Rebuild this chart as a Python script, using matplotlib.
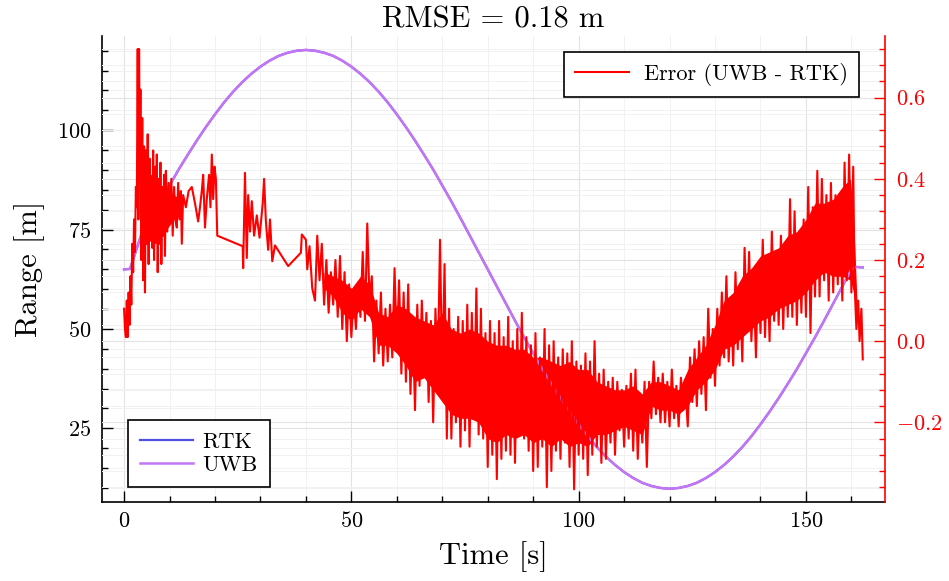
import matplotlib
matplotlib.use("Agg")
import matplotlib.pyplot as plt
from matplotlib.ticker import MultipleLocator, FuncFormatter

plt.rcParams['font.family'] = 'serif'
plt.rcParams['font.serif'] = ['cmr10']
plt.rcParams['mathtext.fontset'] = 'cm'
plt.rcParams['axes.formatter.use_mathtext'] = True

# range of the tag, RTK and UWB (m)
range_t = [0, 1.3, 2, 4, 6, 8, 10, 12, 14, 16, 18, 20, 22, 24, 26, 28, 30,
           32, 34, 36, 38, 40, 42, 44, 46, 48, 50, 52, 54, 56, 58, 60, 62,
           64, 66, 68, 70, 72, 74, 76, 78, 80, 82, 84, 86, 88, 90, 92, 94,
           96, 98, 100, 102, 104, 106, 108, 110, 112, 114, 116, 118, 120,
           122, 124, 126, 128, 130, 132, 134, 136, 138, 140, 142, 144, 146,
           148, 150, 152, 154, 156, 158, 160, 161, 162.5]
rtk_range = [65.0, 65.1, 67.5, 74.5, 78.3, 82.1, 86.1, 90.1, 93.8, 97.4,
             100.8, 104.0, 107.0, 109.7, 112.1, 114.2, 116.0, 117.5, 118.7,
             119.5, 120.0, 120.2, 120.0, 119.5, 118.7, 117.5, 116.0, 114.2,
             112.1, 109.7, 107.0, 104.0, 100.8, 97.4, 93.8, 90.1, 86.1, 82.1,
             77.9, 73.6, 69.3, 65.0, 60.7, 56.4, 52.1, 47.9, 43.9, 39.9, 36.2,
             32.6, 29.2, 26.0, 23.0, 20.3, 17.9, 15.8, 14.0, 12.5, 11.3, 10.5,
             10.0, 9.8, 10.0, 10.5, 11.3, 12.5, 14.0, 15.8, 17.9, 20.3, 23.0,
             26.0, 29.2, 32.6, 36.2, 39.9, 43.9, 47.9, 52.1, 56.4, 60.7, 65.0,
             65.6, 65.5]
uwb_range = [65.0, 65.1, 67.5, 74.5, 78.3, 82.1, 86.1, 90.1, 93.8, 97.4,
             100.8, 104.0, 107.0, 109.7, 112.1, 114.2, 116.0, 117.5, 118.7,
             119.5, 120.0, 120.2, 120.0, 119.5, 118.7, 117.5, 116.0, 114.2,
             112.1, 109.7, 107.0, 104.0, 100.8, 97.4, 93.8, 90.1, 86.1, 82.1,
             77.9, 73.6, 69.3, 65.0, 60.7, 56.4, 52.1, 47.9, 43.9, 39.9, 36.2,
             32.6, 29.2, 26.0, 23.0, 20.3, 17.9, 15.8, 14.0, 12.5, 11.3, 10.5,
             10.0, 9.8, 10.0, 10.5, 11.3, 12.5, 14.0, 15.8, 17.9, 20.3, 23.0,
             26.0, 29.2, 32.6, 36.2, 39.9, 43.9, 47.9, 52.1, 56.4, 60.7, 65.0,
             65.6, 65.5]

# error UWB - RTK (m): the peaks and dips of the trace
err_t = [0.0, 0.2, 0.4, 0.6, 0.8, 1.0, 1.2, 1.4, 1.6, 1.8, 2.0, 2.2, 2.4, 2.6, 2.8,
         3.0, 3.15, 3.3, 3.45, 3.6, 3.8, 4.0, 4.2, 4.4, 4.6, 4.8, 5.0, 5.2, 5.4,
         5.6, 5.8, 6.0, 6.2, 6.4, 6.6, 6.8, 7.0, 7.2, 7.4, 7.6, 7.8, 8.0, 8.2,
         8.4, 8.6, 8.8, 9.0, 9.2, 9.5, 9.8, 10.1, 10.4, 10.7, 11.0, 11.3, 11.6,
         11.9, 12.2, 12.5, 12.7, 13.0,
         13.6, 14.2, 14.9, 15.6, 16.3, 16.7, 17.1, 17.4, 17.8, 18.2, 18.7, 19.0,
         19.3, 19.6, 19.9, 20.2, 20.5,
         26.1, 26.2, 26.6, 27.0, 27.3, 27.7, 28.1, 28.6, 29.2, 29.8, 30.5, 30.8,
         31.2, 31.7, 32.1, 32.6, 33.2, 36.1, 38.9, 39.1, 40.0, 40.3, 40.8, 41.4,
         42.0, 42.5, 43.0, 43.5, 44.0, 44.5, 45.0, 45.5, 46.0, 46.5,
         47.0, 47.5, 48.0, 48.5, 49.0, 49.5, 50.0, 50.5, 51.0, 51.5,
         52.0, 52.5, 53.0, 53.5, 54.0, 54.5, 55.0, 55.5, 56.0, 56.5,
         57.0, 57.5, 58.0, 58.5, 59.0, 59.5, 60.0, 60.5, 61.0, 61.5,
         62.0, 62.5, 63.0, 63.5, 64.0, 64.5, 65.0, 65.5, 66.0, 66.5,
         67.0, 67.5, 68.0, 68.5, 69.0, 69.5, 70.0, 70.5, 71.0, 71.5,
         72.0, 72.5, 73.0, 73.5, 74.0, 74.5, 75.0, 75.5, 76.0, 76.5,
         77.0, 77.5, 78.0, 78.5, 79.0, 79.5, 80.0, 80.5, 81.0, 81.5,
         82.0, 82.5, 83.0, 83.5, 84.0, 84.5, 85.0, 85.5, 86.0, 86.5,
         87.0, 87.5, 88.0, 88.5, 89.0, 89.5, 90.0, 90.5, 91.0, 91.5,
         92.0, 92.5, 93.0, 93.5, 94.0, 94.5, 95.0, 95.5, 96.0, 96.5,
         97.0, 97.5, 98.0, 98.5, 99.0, 99.5, 100.0, 100.5, 101.0, 101.5,
         102.0, 102.5, 103.0, 103.5, 104.0, 104.5, 105.0, 105.5, 106.0, 106.5,
         107.0, 107.5, 108.0, 108.5, 109.0, 109.5, 110.0, 110.5, 111.0, 111.5,
         112.0, 112.5, 113.0, 113.5, 114.0, 114.5, 115.0, 115.5, 116.0, 116.5,
         117.0, 117.5, 118.0, 118.5, 119.0, 119.5, 120.0, 120.5, 121.0, 121.5,
         122.0, 122.5, 123.0, 123.5, 124.0, 124.5, 125.0, 125.5, 126.0, 126.5,
         127.0, 127.5, 128.0, 128.5, 129.0, 129.5, 130.0, 130.5, 131.0, 131.5,
         132.0, 132.5, 133.0, 133.5, 134.0, 134.5, 135.0, 135.5, 136.0, 136.5,
         137.0, 137.5, 138.0, 138.5, 139.0, 139.5, 140.0, 140.5, 141.0, 141.5,
         142.0, 142.5, 143.0, 143.5, 144.0, 144.5, 145.0, 145.5, 146.0, 146.5,
         147.0, 147.5, 148.0, 148.5, 149.0, 149.5, 150.0, 150.5, 151.0, 151.5,
         152.0, 152.5, 153.0, 153.5, 154.0, 154.5, 155.0, 155.5, 156.0, 156.5,
         157.0, 157.5, 158.0, 158.5, 159.0, 159.5, 160.0, 160.4, 160.7, 161.1,
         161.5, 161.8, 162.2, 162.5]
err_v = [0.08, 0.03, 0.01, 0.10, 0.01, 0.12, 0.04, 0.16, 0.09, 0.24, 0.17, 0.30, 0.22, 0.38, 0.33,
         0.72, 0.30, 0.72, 0.45, 0.62, 0.20, 0.55, 0.15, 0.48, 0.12, 0.47, 0.24, 0.51, 0.19,
         0.45, 0.28, 0.40, 0.23, 0.47, 0.20, 0.43, 0.25, 0.46, 0.17, 0.40, 0.24, 0.44, 0.19,
         0.38, 0.26, 0.41, 0.21, 0.42, 0.27, 0.39, 0.30, 0.40, 0.26, 0.38, 0.30, 0.28,
         0.39, 0.30, 0.37, 0.24, 0.36,
         0.33, 0.37, 0.38, 0.34, 0.295, 0.33, 0.37, 0.41, 0.28, 0.35, 0.41, 0.33,
         0.46, 0.35, 0.43, 0.40, 0.26,
         0.234, 0.18, 0.415, 0.205, 0.36, 0.27, 0.345, 0.26, 0.31, 0.255, 0.34, 0.40,
         0.295, 0.225, 0.30, 0.197, 0.236, 0.185, 0.218, 0.263, 0.25, 0.177, 0.234, 0.13,
         0.10, 0.26, 0.15, 0.24, 0.09, 0.20, 0.07, 0.17, 0.09, 0.20,
         0.06, 0.21, 0.03, 0.17, 0.00, 0.14, 0.01, 0.12, 0.03, 0.14,
         0.06, 0.22, 0.05, 0.29, 0.10, 0.16, -0.05, 0.10, -0.03, 0.12,
         -0.06, 0.08, -0.05, 0.09, -0.04, 0.18, -0.02, 0.15, -0.08, 0.12,
         -0.10, 0.14, -0.13, 0.06, -0.17, 0.09, -0.11, 0.10, -0.08, 0.07,
         -0.15, 0.05, -0.20, 0.08, -0.09, 0.25, -0.10, 0.19, -0.24, 0.08,
         -0.24, 0.03, -0.20, 0.06, -0.26, 0.05, -0.22, 0.09, -0.26, 0.07,
         -0.18, 0.13, -0.23, 0.08, -0.24, 0.02, -0.31, 0.05, -0.28, 0.02,
         -0.34, 0.05, -0.29, 0.01, -0.27, 0.06, -0.28, 0.00, -0.30, 0.03,
         -0.22, 0.07, -0.24, 0.01, -0.27, -0.01, -0.32, 0.02, -0.31, -0.04,
         -0.26, 0.03, -0.36, -0.01, -0.32, 0.00, -0.27, -0.04, -0.29, -0.02,
         -0.25, -0.03, -0.31, 0.00, -0.365, -0.05, -0.28, -0.06, -0.29, -0.03,
         -0.33, -0.05, -0.28, 0.00, -0.26, -0.08, -0.30, -0.07, -0.29, -0.10,
         -0.25, -0.09, -0.28, -0.10, -0.22, -0.12, -0.26, -0.11, -0.24, -0.08,
         -0.27, -0.07, -0.29, -0.13, -0.25, -0.10, -0.31, -0.10, -0.19, -0.05,
         -0.18, -0.09, -0.20, -0.08, -0.20, -0.10, -0.21, -0.07, -0.19, -0.11,
         -0.21, -0.09, -0.17, -0.12, -0.21, -0.04, -0.15, -0.02, -0.16, 0.00,
         -0.13, 0.01, -0.17, 0.08, -0.09, 0.03, -0.11, 0.08, -0.06, 0.12,
         -0.04, 0.16, -0.05, 0.10, -0.06, 0.17, -0.02, 0.13, -0.05, 0.23,
         0.03, 0.22, 0.00, 0.15, -0.04, 0.19, 0.02, 0.25, 0.01, 0.20,
         0.00, 0.27, 0.05, 0.22, 0.04, 0.26, 0.03, 0.24, 0.06, 0.35,
         0.06, 0.32, 0.04, 0.27, 0.07, 0.30, 0.06, 0.38, 0.02, 0.33,
         0.11, 0.42, 0.11, 0.40, 0.15, 0.36, 0.10, 0.39, 0.12, 0.36,
         0.14, 0.35, 0.10, 0.44, 0.15, 0.46, 0.12, 0.43, 0.14, 0.03,
         0.10, 0.00, 0.08, -0.045]

# the solid core of the dense error trace (lower / upper edge)
core1_t = [3.6, 5.0, 7.0, 9.0, 11.0, 12.5]
core1_lo = [0.25, 0.25, 0.24, 0.27, 0.30, 0.31]
core1_hi = [0.45, 0.42, 0.40, 0.37, 0.36, 0.35]
core2_t = [44, 46, 48, 50, 52, 54, 56, 58, 60, 62, 64, 66, 68, 70, 72, 74,
           76, 78, 80, 82, 84, 86, 88, 90, 92, 94, 96, 98, 100, 102, 104,
           106, 108, 110, 112, 114, 116, 118, 120, 122, 124, 126, 128, 130,
           132, 134, 136, 138, 140, 142, 144, 146, 148, 150, 152, 154, 156,
           158, 159.8, 160.5, 161.3]
core2_lo = [0.13, 0.11, 0.07, 0.05, 0.08, 0.06, -0.01, -0.01, -0.03, -0.06,
            -0.10, -0.09, -0.12, -0.15, -0.18, -0.19, -0.19, -0.20, -0.24,
            -0.25, -0.23, -0.24, -0.23, -0.25, -0.24, -0.26, -0.24, -0.26,
            -0.25, -0.26, -0.23, -0.23, -0.22, -0.21, -0.22, -0.23, -0.16,
            -0.17, -0.17, -0.18, -0.16, -0.12, -0.10, -0.07, -0.02, -0.01,
            0.01, 0.03, 0.05, 0.06, 0.08, 0.09, 0.10, 0.12, 0.15, 0.17, 0.16,
            0.16, 0.15, 0.12, 0.05]
core2_hi = [0.17, 0.16, 0.15, 0.13, 0.16, 0.14, 0.07, 0.06, 0.09, 0.08,
            0.06, 0.05, 0.04, 0.07, 0.03, 0.02, 0.03, 0.02, 0.00, -0.01,
            -0.01, -0.02, -0.02, -0.04, -0.04, -0.05, -0.06, -0.05, -0.07,
            -0.07, -0.10, -0.11, -0.12, -0.12, -0.11, -0.13, -0.10, -0.10,
            -0.11, -0.12, -0.07, -0.04, -0.01, 0.04, 0.10, 0.12, 0.16, 0.18,
            0.21, 0.22, 0.23, 0.26, 0.27, 0.30, 0.34, 0.34, 0.35, 0.38, 0.40,
            0.30, 0.08]

fig, ax = plt.subplots(figsize=(9.49, 5.81), dpi=100)
fig.subplots_adjust(left=0.1075, right=0.9326, bottom=0.1355, top=0.938)
ax.set_xlim(-4.85, 167.4)
ax.set_ylim(6.4, 123.7)

ax2 = ax.twinx()
ax2.set_ylim(-0.397, 0.752)

# grids first (both scales), then all curves on the top axes so no grid line crosses them
ax.grid(which='major', color='#e2e2e2', lw=0.8)
ax.grid(which='minor', color='#f1f1f1', lw=0.7)
ax2.grid(which='major', axis='y', color='#e2e2e2', lw=0.8)
ax2.grid(which='minor', axis='y', color='#f1f1f1', lw=0.7)
ax2.set_axisbelow(True)

l_rtk, = ax2.plot(range_t, rtk_range, color='#4f4fe0', lw=1.6, label='RTK',
                  transform=ax.transData)
l_uwb, = ax2.plot(range_t, uwb_range, color='#c475f5', lw=1.8, label='UWB',
                  transform=ax.transData)
ax2.fill_between(core1_t, core1_lo, core1_hi, color='red', lw=0)
ax2.fill_between(core2_t, core2_lo, core2_hi, color='red', lw=0)
l_err, = ax2.plot(err_t, err_v, color='red', lw=1.5, label='Error (UWB - RTK)')
ax2.set_ylim(-0.397, 0.752)
ax.set_xlim(-4.85, 167.4)

# ticks
ax.xaxis.set_major_locator(MultipleLocator(50))
ax.xaxis.set_minor_locator(MultipleLocator(10))
ax.yaxis.set_major_locator(MultipleLocator(25))
ax.yaxis.set_minor_locator(MultipleLocator(5))
ax2.yaxis.set_major_locator(MultipleLocator(0.2))
ax2.yaxis.set_minor_locator(MultipleLocator(0.04))
ax2.yaxis.set_major_formatter(FuncFormatter(lambda v, p: '$%.1f$' % v))

ax.tick_params(which='both', direction='in', top=False, right=False, labelsize=16)
ax.tick_params(axis='x', which='major', pad=6.5)
ax.tick_params(axis='y', which='major', pad=7.5)
ax.tick_params(which='major', length=8, width=1)
ax.tick_params(which='minor', length=4.5, width=1)
ax2.tick_params(which='both', direction='in', colors='red', labelsize=16)
ax2.tick_params(which='major', length=8, width=1, pad=8)
ax2.tick_params(which='minor', length=4.5, width=1)

for s in ['top', 'right']:
    ax.spines[s].set_visible(False)
for s in ['top', 'left', 'bottom']:
    ax2.spines[s].set_visible(False)
ax2.spines['right'].set_color('red')
for a in [ax, ax2]:
    for s in a.spines.values():
        s.set_linewidth(1.2)

ax.set_title('RMSE = 0.18 m', fontsize=22, pad=6)
ax.set_xlabel('Time [s]', fontsize=22, labelpad=7)
ax.set_ylabel('Range [m]', fontsize=22, labelpad=9)

leg1 = ax2.legend(handles=[l_rtk, l_uwb], loc='lower left', bbox_to_anchor=(0.033, 0.033),
                  borderaxespad=0, fancybox=False, framealpha=1, edgecolor='black',
                  fontsize=16, handlelength=2.4, handletextpad=0.4, labelspacing=0.15,
                  borderpad=0.55)
leg1.get_frame().set_linewidth(1.2)
ax2.add_artist(leg1)
leg2 = ax2.legend(handles=[l_err], loc='upper right', bbox_to_anchor=(0.967, 0.966),
                  borderaxespad=0, fancybox=False, framealpha=1, edgecolor='black',
                  fontsize=16, handlelength=2.4, handletextpad=0.7, borderpad=0.5)
leg2.get_frame().set_linewidth(1.2)

fig.savefig('out.png', dpi=100)
